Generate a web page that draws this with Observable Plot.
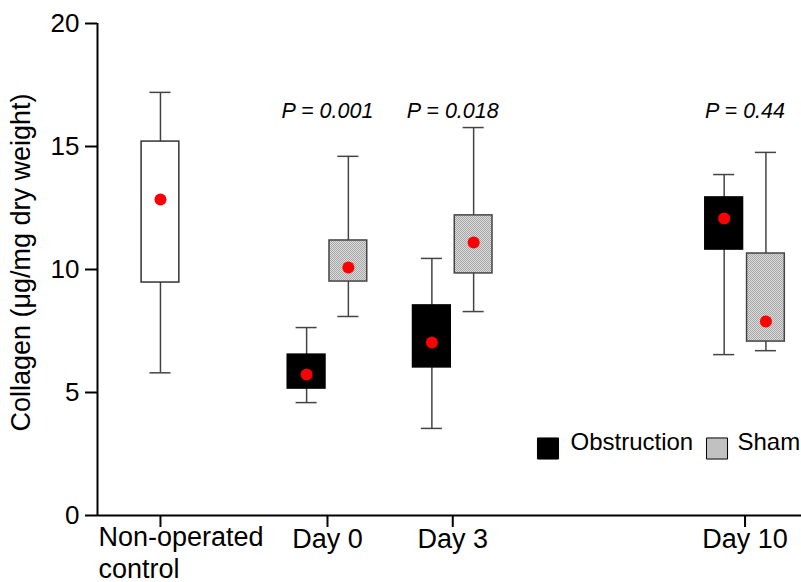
<!DOCTYPE html>
<html>
<head>
<meta charset="utf-8">
<script src="https://cdn.jsdelivr.net/npm/d3@7"></script>
<script src="https://cdn.jsdelivr.net/npm/@observablehq/plot@0.6"></script>
<style>
  html, body { margin: 0; padding: 0; background: #fff; }
  svg { display: block; }
  g[aria-label="y-axis tick"] path, g[aria-label="x-axis tick"] path { stroke-width: 2; }
</style>
</head>
<body>
<div id="chart"></div>
<script>
// ---- data ----
const groups = ["Non-operated control", "Day 0", "Day 3", "Day 10"];
const groupPos = [0, 1, 1.75, 3.5];           // relative positions of the groups on the x axis
const groupTickLabels = ["", "Day 0", "Day 3", "Day 10"];

const boxGroup = ["Non-operated control", "Day 0", "Day 0", "Day 3", "Day 3", "Day 10", "Day 10"];
const boxSeries = ["Control", "Obstruction", "Sham", "Obstruction", "Sham", "Obstruction", "Sham"];
const whiskerLow  = [5.8, 4.59, 8.09, 3.54, 8.29, 6.54, 6.7];
const q1          = [9.47, 5.16, 9.51, 6.02, 9.84, 10.81, 7.07];
const q3          = [15.2, 6.54, 11.18, 8.54, 12.2, 12.93, 10.65];
const whiskerHigh = [17.2, 7.64, 14.6, 10.45, 15.77, 13.86, 14.76];
const means       = [12.85, 5.73, 10.08, 7.03, 11.1, 12.07, 7.89];

const pGroups = ["Day 0", "Day 3", "Day 10"];
const pLabels = ["P = 0.001", "P = 0.018", "P = 0.44"];
const pLabelY = 16.45;

const yTicks = [0, 5, 10, 15, 20];
const legendSeries = ["Obstruction", "Sham"];

// ---- layout helpers (not data) ----
const xDomain = [-0.377, 3.838];
const seriesOffset = {Control: 0, Obstruction: -0.125, Sham: 0.125};
const boxHalf = 0.113;
const capHalf = 0.063;
const seriesFill = {Control: "white", Obstruction: "black", Sham: "url(#stipple)"};
const seriesStroke = {Control: "#333", Obstruction: "black", Sham: "#444"};

const posOf = g => groupPos[groups.indexOf(g)];
const boxes = boxGroup.map((g, i) => ({
  group: g, series: boxSeries[i],
  center: posOf(g) + seriesOffset[boxSeries[i]],
  lo: whiskerLow[i], q1: q1[i], q3: q3[i], hi: whiskerHigh[i], mean: means[i]
}));
const pData = pGroups.map((g, i) => ({x: posOf(g), label: pLabels[i]}));

const font = "'Liberation Sans', Arial, Helvetica, sans-serif";

const chart = Plot.plot({
  width: 801,
  height: 582,
  marginLeft: 97,
  marginRight: 0,
  marginTop: 23,
  marginBottom: 67,
  style: {fontFamily: font, background: "white", color: "black"},
  x: {domain: xDomain, axis: null},
  y: {domain: [0, 20], axis: null},
  color: {type: "identity"},
  marks: [
    // whiskers
    Plot.ruleX(boxes, {x: "center", y1: "lo", y2: "hi", stroke: "#444", strokeWidth: 1.5}),
    Plot.ruleY(boxes, {y: "lo", x1: d => d.center - capHalf, x2: d => d.center + capHalf, stroke: "#444", strokeWidth: 1.5}),
    Plot.ruleY(boxes, {y: "hi", x1: d => d.center - capHalf, x2: d => d.center + capHalf, stroke: "#444", strokeWidth: 1.5}),
    // boxes
    Plot.rect(boxes, {
      x1: d => d.center - boxHalf, x2: d => d.center + boxHalf,
      y1: "q1", y2: "q3",
      fill: d => seriesFill[d.series], stroke: d => seriesStroke[d.series], strokeWidth: 1.5
    }),
    // means
    Plot.dot(boxes, {x: "center", y: "mean", r: 6, fill: "#ff0000", stroke: "none"}),
    // P values
    Plot.text(pData, {x: "x", y: () => pLabelY, text: "label", fontSize: 21.5, fontStyle: "italic", fill: "black"}),
    // axes lines
    Plot.ruleY([0], {stroke: "black", strokeWidth: 2}),
    Plot.ruleX([xDomain[0]], {y1: 0, y2: 20, stroke: "black", strokeWidth: 2}),
    Plot.axisY({ticks: yTicks, tickSize: 12, tickPadding: 6, fontSize: 26, label: null, stroke: "black"}),
    Plot.axisX({ticks: groupPos, tickSize: 12, tickPadding: 1, fontSize: 27, label: null, stroke: "black",
      tickFormat: v => groupTickLabels[groupPos.indexOf(v)]}),
    Plot.text(["Non-operated\ncontrol"], {
      x: () => groupPos[0], frameAnchor: "bottom", y: () => 0,
      text: d => d, textAnchor: "start", lineAnchor: "top", dx: -62, dy: 8,
      fontSize: 27, lineHeight: 1.17, fill: "black"
    }),
    // y label
    Plot.text(["Collagen (μg/mg dry weight)"], {
      frameAnchor: "left", text: d => d, rotate: -90, textAnchor: "middle", lineAnchor: "middle",
      dx: -76, dy: -7, fontSize: 27, fill: "black"
    }),
    // legend
    Plot.dot(legendSeries, {frameAnchor: "bottom-left", symbol: "square", r: 11.9,
      fill: d => seriesFill[d], stroke: "black", strokeWidth: 1,
      render(index, scales, values, dims, context, next) {
        const g = next(index, scales, values, dims, context);
        const offs = [450.5, 619.5];
        d3.select(g).selectAll("path").attr("transform", (d, i) => `translate(${dims.marginLeft + offs[i]},${dims.height - dims.marginBottom - 67})`);
        return g;
      }
    }),
    Plot.text(legendSeries, {frameAnchor: "bottom-left", text: d => d, textAnchor: "start", fontSize: 24, fill: "black",
      render(index, scales, values, dims, context, next) {
        const g = next(index, scales, values, dims, context);
        const offs = [473, 640];
        d3.select(g).selectAll("text").attr("transform", (d, i) => `translate(${dims.marginLeft + offs[i]},${dims.height - dims.marginBottom - 66})`);
        return g;
      }
    })
  ]
});

// stipple pattern for Sham boxes
const defs = d3.select(chart).insert("defs", ":first-child");
const pat = defs.append("pattern").attr("id", "stipple").attr("patternUnits", "userSpaceOnUse")
  .attr("width", 2).attr("height", 2);
pat.append("rect").attr("width", 2).attr("height", 2).attr("fill", "#dcdcdc");
pat.append("rect").attr("x", 0).attr("y", 0).attr("width", 1).attr("height", 1).attr("fill", "#a6a6a6");
pat.append("rect").attr("x", 1).attr("y", 1).attr("width", 1).attr("height", 1).attr("fill", "#a6a6a6");

document.getElementById("chart").appendChild(chart);
</script>
</body>
</html>
